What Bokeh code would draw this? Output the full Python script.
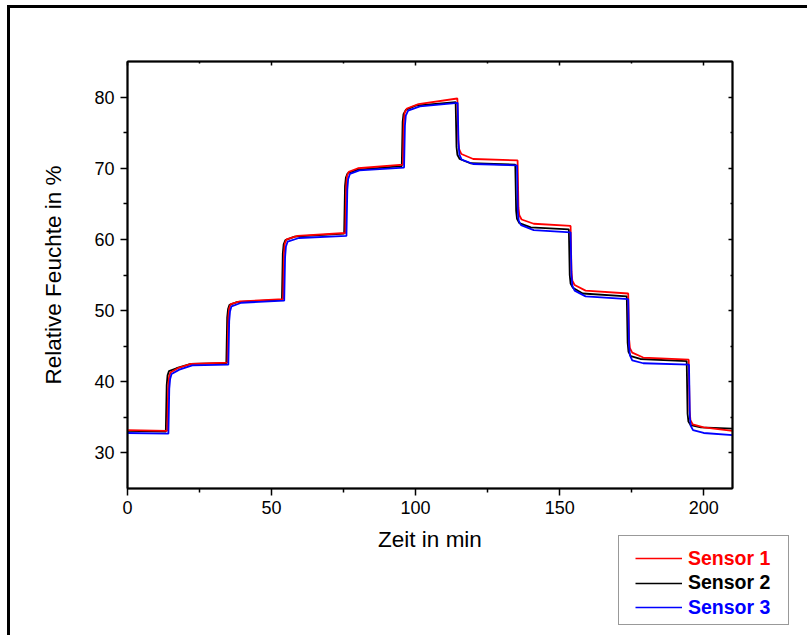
from bokeh.plotting import figure
from bokeh.models import LinearAxis, FixedTicker, Legend, LegendItem, Range1d
from bokeh.embed import file_html
from bokeh.resources import INLINE

FONT = "Liberation Sans"

# ---- data -------------------------------------------------------------
x_ticks = [0, 50, 100, 150, 200]
x_minor = [25, 75, 125, 175]
y_ticks = [30, 40, 50, 60, 70, 80]
y_minor = [35, 45, 55, 65, 75]

sensor_names = ["Sensor 1", "Sensor 2", "Sensor 3"]
sensor_colors = ["#ff0000", "#000000", "#0000ff"]

# Sensor 1 (red)
t1 = [0, 13.8, 14.1, 14.4, 14.9, 17.5, 22, 34.7,
      35.0, 35.3, 35.8, 39, 54.0,
      54.3, 54.6, 55.2, 59, 75.6,
      75.9, 76.2, 76.8, 80, 95.6,
      95.9, 96.2, 97.0, 101, 114.5,
      114.8, 115.1, 115.9, 120, 135.4,
      135.7, 136.0, 136.8, 141, 153.8,
      154.1, 154.4, 155.2, 159, 173.8,
      174.1, 174.4, 175.2, 179, 194.8,
      195.1, 195.4, 196.2, 200, 210]
v1 = [33.2, 33.1, 39.0, 40.6, 41.3, 41.9, 42.5, 42.7,
      49.0, 50.3, 50.9, 51.3, 51.6,
      58.0, 59.4, 60.0, 60.5, 60.9,
      67.5, 68.9, 69.5, 70.0, 70.5,
      76.5, 77.8, 78.4, 79.0, 79.8,
      74.0, 72.7, 72.0, 71.3, 71.1,
      64.5, 63.4, 62.8, 62.2, 61.9,
      55.5, 54.2, 53.6, 52.8, 52.4,
      46.0, 44.7, 44.1, 43.4, 43.1,
      36.0, 34.6, 34.0, 33.6, 33.1]

# Sensor 2 (black)
t2 = [0, 13.3, 13.6, 13.9, 14.4, 17, 22, 34.3,
      34.6, 34.9, 35.4, 38, 53.6,
      53.9, 54.2, 54.8, 58, 75.2,
      75.5, 75.8, 76.4, 80, 95.2,
      95.5, 95.8, 96.6, 100, 113.9,
      114.2, 114.5, 115.3, 119, 134.6,
      134.9, 135.2, 136.0, 140, 153.2,
      153.5, 153.8, 154.6, 158, 173.3,
      173.6, 173.9, 174.7, 178, 194.1,
      194.4, 194.7, 195.5, 199, 210]
v2 = [33.1, 33.0, 39.5, 40.9, 41.5, 41.9, 42.5, 42.6,
      49.0, 50.2, 50.8, 51.2, 51.5,
      58.0, 59.3, 59.9, 60.4, 60.8,
      67.5, 68.7, 69.3, 69.8, 70.3,
      76.5, 77.6, 78.2, 78.8, 79.3,
      73.0, 71.9, 71.3, 70.7, 70.5,
      64.0, 62.9, 62.3, 61.7, 61.4,
      55.0, 53.8, 53.2, 52.4, 52.0,
      45.5, 44.2, 43.6, 43.2, 42.9,
      35.5, 34.4, 33.9, 33.6, 33.4]

# Sensor 3 (blue)
t3 = [0, 14.2, 14.5, 14.8, 15.3, 18, 22.5, 35.0,
      35.3, 35.6, 36.1, 39.5, 54.4,
      54.7, 55.0, 55.6, 59.5, 76.0,
      76.3, 76.6, 77.2, 80.5, 96.0,
      96.3, 96.6, 97.4, 101.5, 114.6,
      114.9, 115.2, 116.0, 120, 135.2,
      135.5, 135.8, 136.6, 141, 153.8,
      154.1, 154.4, 155.2, 159, 173.8,
      174.1, 174.4, 175.2, 179, 194.9,
      195.2, 195.5, 196.3, 200, 210]
v3 = [32.8, 32.7, 39.0, 40.4, 41.1, 41.7, 42.3, 42.4,
      48.5, 49.9, 50.6, 51.1, 51.4,
      57.5, 59.0, 59.7, 60.2, 60.5,
      67.0, 68.5, 69.2, 69.7, 70.1,
      76.0, 77.4, 78.1, 78.7, 79.2,
      73.5, 71.9, 71.2, 70.6, 70.4,
      63.8, 62.6, 62.0, 61.3, 61.0,
      55.0, 53.5, 52.8, 52.0, 51.6,
      45.0, 43.7, 43.0, 42.6, 42.4,
      35.0, 33.8, 33.2, 32.8, 32.5]

series = [(t1, v1), (t2, v2), (t3, v3)]

# ---- main figure -----------------------------------------------------
W, H = 800, 630
p = figure(width=W, height=H,
           x_range=Range1d(0, 210), y_range=Range1d(25, 85),
           output_backend="svg", toolbar_location=None,
           min_border_left=117, min_border_top=53,
           min_border_right=78, min_border_bottom=150,
           x_axis_label="Zeit in min", y_axis_label="Relative Feuchte in %",
           styles={"border-left": "3px solid black",
                   "border-top": "3px solid black",
                   "margin-left": "7px", "margin-top": "5px"})

p.xgrid.visible = False
p.ygrid.visible = False
p.outline_line_color = "black"
p.outline_line_width = 1.5
p.background_fill_color = "white"
p.border_fill_color = "white"


def style_axis(ax, ticks, minor, labels=True, inside=False):
    ax.ticker = FixedTicker(ticks=ticks, minor_ticks=minor)
    ax.axis_line_color = "black"
    ax.axis_line_width = 2
    ax.major_tick_line_color = "black"
    ax.minor_tick_line_color = "black"
    ax.major_tick_line_width = 1.5
    ax.minor_tick_line_width = 1.5
    if inside:
        ax.major_tick_in = 4
        ax.major_tick_out = 0
        ax.minor_tick_in = 2
        ax.minor_tick_out = 0
    else:
        ax.major_tick_in = 0
        ax.major_tick_out = 7
        ax.minor_tick_in = 0
        ax.minor_tick_out = 4
    ax.major_label_text_font = FONT
    ax.major_label_text_font_size = "18px"
    ax.major_label_text_color = "black" if labels else None
    ax.axis_label_text_font = FONT
    ax.axis_label_text_font_size = "22.5px"
    ax.axis_label_text_font_style = "normal"
    ax.axis_label_text_color = "black"


style_axis(p.xaxis[0], x_ticks, x_minor)
style_axis(p.yaxis[0], y_ticks, y_minor)
p.xaxis[0].major_label_standoff = 5
p.xaxis[0].axis_label_standoff = 10
p.yaxis[0].major_label_standoff = 6
p.yaxis[0].axis_label_standoff = 25

top_ax = LinearAxis()
style_axis(top_ax, x_ticks, x_minor, labels=False, inside=True)
p.add_layout(top_ax, "above")
right_ax = LinearAxis()
style_axis(right_ax, y_ticks, y_minor, labels=False, inside=True)
p.add_layout(right_ax, "right")

draw_order = [1, 0, 2]
for i in draw_order:
    p.line(series[i][0], series[i][1], line_color=sensor_colors[i], line_width=1.8)

# ---- legend figure (second root, placed over the bottom-right corner) --
LW, LH, OFF = 200, 120, 10
box_left, box_bottom = 618, 625
box_h, box_w = 88, 169
q = figure(width=LW, height=LH, x_range=Range1d(-20, -10), y_range=Range1d(0, 1),
           output_backend="svg", toolbar_location=None, min_border=0,
           x_axis_location=None, y_axis_location=None,
           outline_line_color=None, title=None,
           styles={"position": "absolute",
                   "left": f"{box_left - OFF}px",
                   "top": f"{box_bottom + OFF - LH}px",
                   "z-index": "10", "margin": "0px"})
for g in q.grid:
    g.visible = False
q.border_fill_color = None
q.background_fill_color = None

# legend swatches use the real series (drawn outside q's visible range)
leg_lines = [q.line(t, v, line_color=c, line_width=1.6)
             for (t, v), c in zip(series, sensor_colors)]
dummy = q.line(t1, v1, line_alpha=0)

box = Legend(items=[LegendItem(label=" ", renderers=[dummy])],
             location=(OFF, OFF),
             padding=8, glyph_width=20, glyph_height=box_h - 16,
             label_height=box_h - 16, label_width=box_w - 16 - 20 - 5,
             label_standoff=5, margin=0, spacing=0,
             border_line_color="#333333", border_line_width=1.5,
             background_fill_color="white", background_fill_alpha=1)
q.add_layout(box)

box_top_c = LH - OFF - box_h          # box top in q canvas pixels
item_offsets = [21, 45.5, 70]          # item centres below the box top
pad2, item_h = 17, 24
for name, color, rend, dy in zip(sensor_names, sensor_colors, leg_lines, item_offsets):
    cy = box_top_c + dy
    lg = Legend(items=[LegendItem(label=name, renderers=[rend])],
                location=(OFF, LH - (cy + item_h / 2 + pad2)),
                padding=pad2, glyph_width=47, glyph_height=item_h,
                label_height=item_h, label_standoff=6, margin=0, spacing=0,
                label_text_font=FONT, label_text_font_size="19.5px",
                label_text_font_style="bold", label_text_color=color,
                border_line_alpha=0, background_fill_alpha=0)
    q.add_layout(lg)

open("out.html", "w").write(file_html([p, q], INLINE))
